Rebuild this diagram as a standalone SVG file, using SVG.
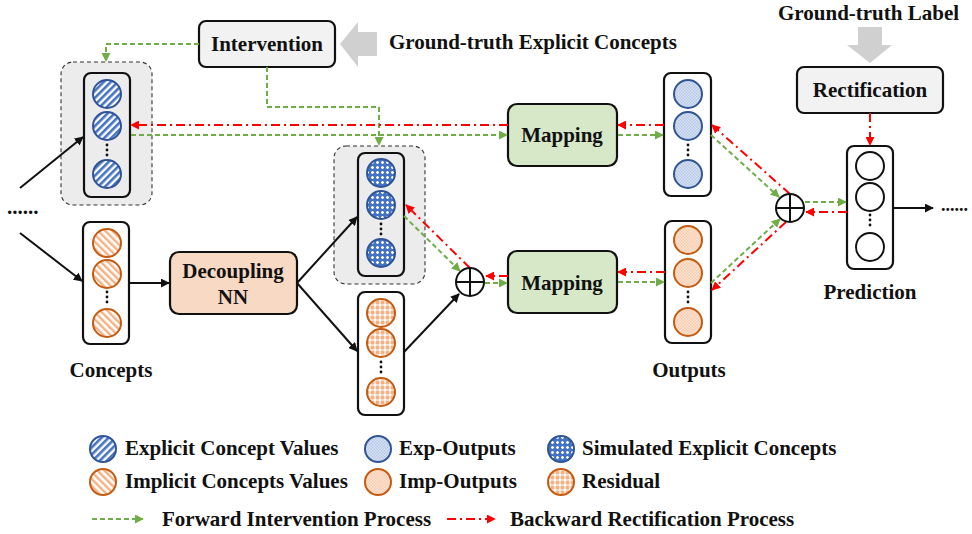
<svg xmlns="http://www.w3.org/2000/svg" width="972" height="534" viewBox="0 0 972 534">
<style>
text{font-family:"Liberation Serif","Times New Roman",serif;font-weight:bold;fill:#111}
.lbl{font-size:21px}
.c{text-anchor:middle}
.leg{font-size:21px}
.box{stroke:#111;stroke-width:2.2}
.grp{fill:#ececec;stroke:#333;stroke-width:1.1;stroke-dasharray:4 3}
.col{fill:#fff;stroke:#111;stroke-width:2.2}
.colg{fill:#ececec;stroke:#111;stroke-width:2.2}
.eb{fill:url(#stripeB);stroke:#2f5597;stroke-width:2}
.io{fill:url(#stripeO);stroke:#c55a11;stroke-width:2}
.xo{fill:url(#dotB);stroke:#2f5597;stroke-width:2}
.oo{fill:url(#dotO);stroke:#c55a11;stroke-width:2}
.sb{fill:url(#gridB);stroke:#2f5597;stroke-width:2}
.ro{fill:url(#gridO);stroke:#c55a11;stroke-width:2}
.pr{fill:#fff;stroke:#111;stroke-width:2}
.dot{fill:#111}
.g{fill:none;stroke:#70ad47;stroke-width:2;stroke-dasharray:5 3;marker-end:url(#ag)}
.r{fill:none;stroke:#ff0000;stroke-width:2;stroke-dasharray:9 4 2 4;marker-end:url(#ar)}
.k{fill:none;stroke:#111;stroke-width:2;marker-end:url(#ak)}
.plus{fill:#fff;stroke:#111;stroke-width:2}
</style>
<defs>
<pattern id="stripeB" patternUnits="userSpaceOnUse" width="5" height="5" patternTransform="rotate(45)">
<rect width="5" height="5" fill="#fff"/><rect width="2.6" height="5" fill="#4472c4"/>
</pattern>
<pattern id="stripeO" patternUnits="userSpaceOnUse" width="5" height="5" patternTransform="rotate(-45)">
<rect width="5" height="5" fill="#fff"/><rect width="2.4" height="5" fill="#f4b183"/>
</pattern>
<pattern id="dotB" patternUnits="userSpaceOnUse" width="3" height="3">
<rect width="3" height="3" fill="#dae3f3"/><rect width="1.5" height="1.5" fill="#b4c7e7"/><rect x="1.5" y="1.5" width="1.5" height="1.5" fill="#b4c7e7"/>
</pattern>
<pattern id="dotO" patternUnits="userSpaceOnUse" width="3" height="3">
<rect width="3" height="3" fill="#fbe5d6"/><rect width="1.5" height="1.5" fill="#f8cbad"/><rect x="1.5" y="1.5" width="1.5" height="1.5" fill="#f8cbad"/>
</pattern>
<pattern id="gridB" patternUnits="userSpaceOnUse" width="5" height="5">
<rect width="5" height="5" fill="#4472c4"/><path d="M2.5 1V4M1 2.5H4" stroke="#fff" stroke-width="1.3"/>
</pattern>
<pattern id="gridO" patternUnits="userSpaceOnUse" width="5" height="5">
<rect width="5" height="5" fill="#fff"/><rect x="0.6" y="0.6" width="3.8" height="3.8" rx="1.2" fill="#f4b183"/>
</pattern>
<marker id="ag" viewBox="0 0 10 10" refX="9" refY="5" markerWidth="4.5" markerHeight="4.5" orient="auto"><path d="M0 0L10 5L0 10z" fill="#70ad47"/></marker>
<marker id="ar" viewBox="0 0 10 10" refX="9" refY="5" markerWidth="4.5" markerHeight="4.5" orient="auto"><path d="M0 0L10 5L0 10z" fill="#ff0000"/></marker>
<marker id="ak" viewBox="0 0 10 10" refX="9" refY="5" markerWidth="4.5" markerHeight="4.5" orient="auto"><path d="M0 0L10 5L0 10z" fill="#111"/></marker>
</defs>

<!-- gray block arrows -->
<polygon points="340,44 358,22 358,32 377,32 377,56 358,56 358,67" fill="#d0d0d0"/>
<polygon points="858,27 882,27 882,45 892,45 870,63 847,45 858,45" fill="#d0d0d0"/>

<g id="explicit-group">
<rect class="grp" x="61" y="62" width="91" height="143" rx="12"/>
<rect class="colg" x="84" y="73" width="46" height="124" rx="7"/>
<circle class="eb" cx="107" cy="94" r="14"/>
<circle class="eb" cx="107" cy="126" r="14"/>
<circle class="eb" cx="107" cy="174" r="14"/>
<circle class="dot" cx="107" cy="145" r="1.4"/><circle class="dot" cx="107" cy="150" r="1.4"/><circle class="dot" cx="107" cy="155" r="1.4"/>
</g>

<g id="concepts">
<rect class="col" x="83" y="222" width="46" height="122" rx="7"/>
<circle class="io" cx="107" cy="243" r="14"/>
<circle class="io" cx="107" cy="274" r="14"/>
<circle class="io" cx="107" cy="323" r="14"/>
<circle class="dot" cx="107" cy="292" r="1.4"/><circle class="dot" cx="107" cy="297" r="1.4"/><circle class="dot" cx="107" cy="302" r="1.4"/>
<text class="lbl c" x="111" y="377">Concepts</text>
</g>

<g id="simulated-group">
<rect class="grp" x="334" y="146" width="91" height="138" rx="12"/>
<rect class="colg" x="358" y="153" width="46" height="123" rx="7"/>
<circle class="sb" cx="381" cy="173" r="14"/>
<circle class="sb" cx="381" cy="205" r="14"/>
<circle class="sb" cx="381" cy="253" r="14"/>
<circle class="dot" cx="381" cy="224" r="1.4"/><circle class="dot" cx="381" cy="229" r="1.4"/><circle class="dot" cx="381" cy="234" r="1.4"/>
</g>

<g id="residual">
<rect class="col" x="358" y="292" width="46" height="123" rx="7"/>
<circle class="ro" cx="381" cy="313" r="14"/>
<circle class="ro" cx="381" cy="343" r="14"/>
<circle class="ro" cx="381" cy="392" r="14"/>
<circle class="dot" cx="381" cy="362" r="1.4"/><circle class="dot" cx="381" cy="367" r="1.4"/><circle class="dot" cx="381" cy="372" r="1.4"/>
</g>

<g id="exp-outputs">
<rect class="col" x="664" y="73" width="47" height="123" rx="7"/>
<circle class="xo" cx="688" cy="94" r="14"/>
<circle class="xo" cx="688" cy="126" r="14"/>
<circle class="xo" cx="688" cy="174" r="14"/>
<circle class="dot" cx="688" cy="145" r="1.4"/><circle class="dot" cx="688" cy="150" r="1.4"/><circle class="dot" cx="688" cy="155" r="1.4"/>
</g>

<g id="imp-outputs">
<rect class="col" x="665" y="221" width="46" height="122" rx="7"/>
<circle class="oo" cx="688" cy="240" r="14"/>
<circle class="oo" cx="688" cy="273" r="14"/>
<circle class="oo" cx="688" cy="322" r="14"/>
<circle class="dot" cx="688" cy="292" r="1.4"/><circle class="dot" cx="688" cy="297" r="1.4"/><circle class="dot" cx="688" cy="302" r="1.4"/>
<text class="lbl c" x="689" y="377">Outputs</text>
</g>

<g id="prediction">
<rect class="col" x="847" y="146" width="46" height="123" rx="7"/>
<circle class="pr" cx="870" cy="166" r="14"/>
<circle class="pr" cx="870" cy="197" r="14"/>
<circle class="pr" cx="870" cy="247" r="14"/>
<circle class="dot" cx="870" cy="215" r="1.4"/><circle class="dot" cx="870" cy="220" r="1.4"/><circle class="dot" cx="870" cy="225" r="1.4"/>
<text class="lbl c" x="870" y="299">Prediction</text>
</g>

<g id="intervention">
<rect class="box" x="199" y="21" width="136" height="46" rx="7" fill="#f2f2f2"/>
<text class="lbl c" x="267" y="51">Intervention</text>
</g>
<g id="gt-concepts"><text class="lbl" x="389" y="49">Ground-truth Explicit Concepts</text></g>
<g id="gt-label"><text class="lbl" x="778" y="20">Ground-truth Label</text></g>

<g id="rectification">
<rect class="box" x="797" y="67" width="146" height="46" rx="7" fill="#f2f2f2"/>
<text class="lbl c" x="870" y="97">Rectification</text>
</g>

<g id="mapping-top">
<rect class="box" x="508" y="104" width="109" height="62" rx="9" fill="#d7e8c9"/>
<text class="lbl c" x="562" y="142">Mapping</text>
</g>
<g id="mapping-bottom">
<rect class="box" x="508" y="251" width="109" height="62" rx="9" fill="#d7e8c9"/>
<text class="lbl c" x="562" y="290">Mapping</text>
</g>

<g id="decoupling">
<rect class="box" x="170" y="252" width="127" height="62" rx="9" fill="#f8d9c4"/>
<text class="lbl c" x="233" y="278">Decoupling</text>
<text class="lbl c" x="233" y="304">NN</text>
</g>

<g id="ellipses">
<text class="lbl" x="7" y="214">......</text>
<text x="941" y="211" style="font-size:18px">......</text>
</g>

<g id="connectors">
<!-- black -->
<path class="k" d="M20 188L83 137"/>
<path class="k" d="M20 233L82 281"/>
<path class="k" d="M129 283L169 283"/>
<path class="k" d="M297 283L357 217"/>
<path class="k" d="M297 283L357 351"/>
<path class="k" d="M404 352L459 294"/>
<path class="k" d="M893 208L933 208"/>
<!-- green forward -->
<path class="g" d="M199 44H106V61"/>
<path class="g" d="M267 67V107H379V145"/>
<path class="g" d="M131 135H507"/>
<path class="g" d="M618 135H663"/>
<path class="g" d="M711 135L779 197"/>
<path class="g" d="M805 202H846"/>
<path class="g" d="M404 216L460 271"/>
<path class="g" d="M485 283H507"/>
<path class="g" d="M618 282H664"/>
<path class="g" d="M711 283L780 219"/>
<!-- red backward -->
<path class="r" d="M508 125H131"/>
<path class="r" d="M664 125H618"/>
<path class="r" d="M790 194L712 125"/>
<path class="r" d="M847 212H806"/>
<path class="r" d="M870 113V145"/>
<path class="r" d="M470 268L406 205"/>
<path class="r" d="M508 276H486"/>
<path class="r" d="M665 272H618"/>
<path class="r" d="M786 222L712 290"/>
</g>

<g id="plus-1">
<circle class="plus" cx="470" cy="282" r="14"/>
<path d="M456 282H484M470 268V296" stroke="#111" stroke-width="2"/>
</g>
<g id="plus-2">
<circle class="plus" cx="790" cy="208" r="14"/>
<path d="M776 208H804M790 194V222" stroke="#111" stroke-width="2"/>
</g>

<g id="legend">
<circle class="eb" cx="103" cy="449" r="13"/>
<text class="leg" x="125" y="455">Explicit Concept Values</text>
<circle class="xo" cx="378" cy="449" r="13"/>
<text class="leg" x="399" y="455">Exp-Outputs</text>
<circle class="sb" cx="561" cy="449" r="13"/>
<text class="leg" x="582" y="455">Simulated Explicit Concepts</text>
<circle class="io" cx="103" cy="482" r="13"/>
<text class="leg" x="125" y="488">Implicit Concepts Values</text>
<circle class="oo" cx="378" cy="482" r="13"/>
<text class="leg" x="399" y="488">Imp-Outputs</text>
<circle class="ro" cx="561" cy="482" r="13"/>
<text class="leg" x="582" y="488">Residual</text>
<path class="g" d="M92 519H143"/>
<text class="leg" x="162" y="526">Forward Intervention Process</text>
<path class="r" d="M447 519H495"/>
<text class="leg" x="510" y="526">Backward Rectification Process</text>
</g>
</svg>
